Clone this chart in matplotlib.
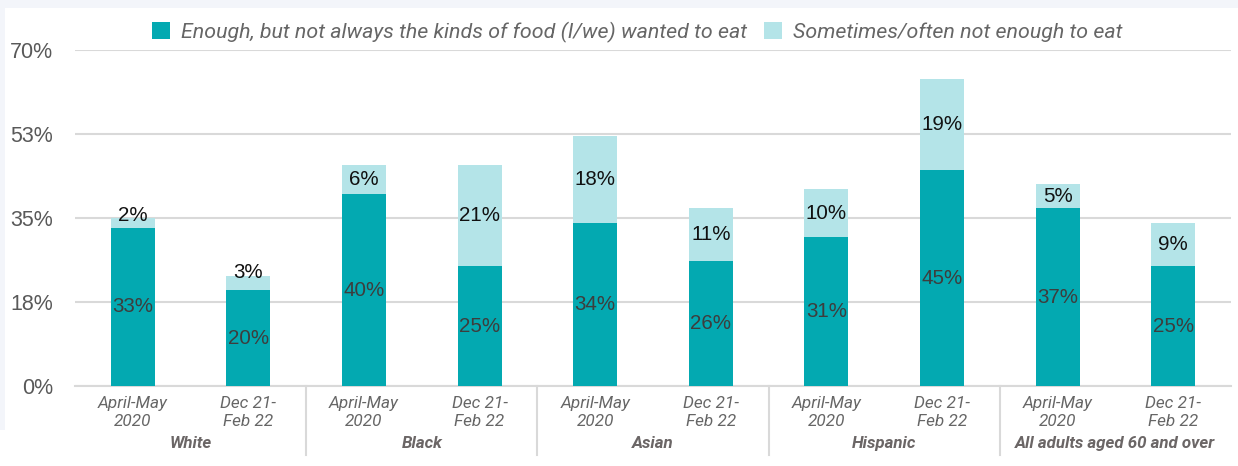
import matplotlib.pyplot as plt
import matplotlib.patches as mpatches
import numpy as np

plt.rcParams['font.family'] = ['Roboto', 'DejaVu Sans']

groups = ['White', 'Black', 'Asian', 'Hispanic', 'All adults aged 60 and over']
periods = ['April-May\n2020', 'Dec 21-\nFeb 22']
enough_not_kinds = [33, 20, 40, 25, 34, 26, 31, 45, 37, 25]
not_enough = [2, 3, 6, 21, 18, 11, 10, 19, 5, 9]
y_ticks = [0, 17.5, 35, 52.5, 70]
y_tick_labels = ['0%', '18%', '35%', '53%', '70%']

dark = '#03a9b1'
light = '#b4e4e8'
grid_col = '#d9d9d9'
num_font = ['Liberation Sans', 'DejaVu Sans']

W, H = 1238, 466
fig = plt.figure(figsize=(W / 100, H / 100), dpi=100, facecolor='#f3f5fa')
# white panel behind the chart
fig.patches.append(mpatches.Rectangle((5 / W, 0), 1, 1 - 8 / H, transform=fig.transFigure,
                                      facecolor='white', edgecolor='none', zorder=-5))
fig.patches.append(mpatches.Rectangle((0, 0), 6 / W, 36 / H, transform=fig.transFigure,
                                      facecolor='white', edgecolor='none', zorder=-5))

ax = fig.add_axes([75 / W, 1 - 386 / H, (1231 - 75) / W, (386 - 50) / H])
ax.set_facecolor('none')

x = np.arange(len(enough_not_kinds))
w = 0.38
ax.bar(x, enough_not_kinds, w, color=dark, zorder=3, label='Enough, but not always the kinds of food (I/we) wanted to eat')
ax.bar(x, not_enough, w, bottom=enough_not_kinds, color=light, zorder=3, label='Sometimes/often not enough to eat')

for i in range(len(x)):
    a, b = enough_not_kinds[i], not_enough[i]
    ax.text(x[i], a / 2, f'{a}%', ha='center', va='center', fontsize=14.8, color='#3d3d3d',
            family=num_font, zorder=4)
    yb = a + b / 2 if b >= 4 else a + b + 0.6
    ax.text(x[i], yb, f'{b}%', ha='center', va='center', fontsize=14.8, color='#111111',
            family=num_font, zorder=4)

ax.set_xlim(-0.5, len(x) - 0.5)
ax.set_ylim(0, 70)
ax.set_yticks(y_ticks)
ax.set_yticklabels(y_tick_labels, fontsize=15.5, color='#595959', family=num_font)
ax.yaxis.grid(True, color=grid_col, linewidth=1.5, zorder=0)
ax.tick_params(axis='y', length=0, pad=16)
ax.tick_params(axis='x', length=0, pad=7)
for s in ['top', 'right', 'left']:
    ax.spines[s].set_visible(False)
ax.spines['bottom'].set_color(grid_col)
ax.spines['bottom'].set_linewidth(1.5)

ax.set_xticks(x)
ax.set_xticklabels(periods * len(groups), fontsize=12.3, color='#666666', style='italic', linespacing=1.3)

# group names and separators under the axis
for g, name in enumerate(groups):
    ax.text(2 * g + 0.5, -57.5 / 4.8, name, ha='center', va='center', fontsize=12.2,
            fontweight='bold', style='italic', color='#6b6666', clip_on=False)
    if g > 0:
        ax.plot([2 * g - 0.5, 2 * g - 0.5], [0, -69 / 4.8], color=grid_col, linewidth=1.5, clip_on=False)

leg = fig.legend(loc='center', bbox_to_anchor=(637 / W, 1 - 32 / H), ncol=2, frameon=False,
                 fontsize=15.4, handlelength=0.85, handleheight=0.85, handletextpad=0.5, columnspacing=0.8)
for t in leg.get_texts():
    t.set_color('#666666')
    t.set_style('italic')

fig.savefig('out.png', dpi=100, facecolor=fig.get_facecolor())
